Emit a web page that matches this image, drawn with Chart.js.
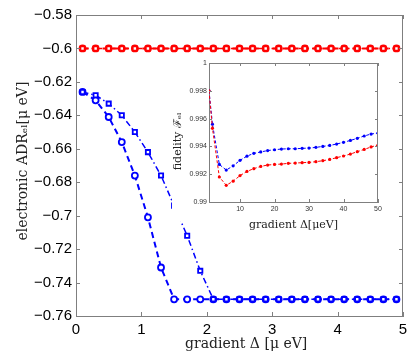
<!DOCTYPE html>
<html>
<head>
<meta charset="utf-8">
<script src="https://cdn.jsdelivr.net/npm/chart.js@4.4.1/dist/chart.umd.min.js"></script>
<style>
  html, body { margin: 0; padding: 0; background: #fff; }
  #wrap { position: relative; width: 415px; height: 357px; }
  #mainChart { position: absolute; left: 0; top: 0; }
  #insetChart { position: absolute; left: 172px; top: 55px; }
</style>
</head>
<body>
<div id="wrap">
  <canvas id="mainChart" width="415" height="357"></canvas>
  <canvas id="insetChart" width="222" height="177"></canvas>
</div>
<script>
// main plot data
const gradient = [0.1, 0.3, 0.5, 0.7, 0.9, 1.1, 1.3, 1.5, 1.7, 1.9, 2.1, 2.3, 2.5,
  2.7, 2.9, 3.1, 3.3, 3.5, 3.7, 3.9, 4.1, 4.3, 4.5, 4.7, 4.9];
const redCircles = [-0.6, -0.6, -0.6, -0.6, -0.6, -0.6, -0.6, -0.6, -0.6, -0.6, -0.6, -0.6, -0.6,
  -0.6, -0.6, -0.6, -0.6, -0.6, -0.6, -0.6, -0.6, -0.6, -0.6, -0.6, -0.6];
const redSquares = [-0.6, -0.6, -0.6, -0.6, -0.6, -0.6, -0.6, -0.6, -0.6, -0.6, -0.6, -0.6, -0.6,
  -0.6, -0.6, -0.6, -0.6, -0.6, -0.6, -0.6, -0.6, -0.6, -0.6, -0.6, -0.6];
const blueCircles = [-0.626, -0.631, -0.641, -0.656, -0.676, -0.701, -0.731, -0.75, -0.75, -0.75,
  -0.75, -0.75, -0.75, -0.75, -0.75, -0.75, -0.75, -0.75, -0.75, -0.75, -0.75, -0.75, -0.75, -0.75, -0.75];
const blueSquares = [-0.626, -0.628, -0.633, -0.640, -0.650, -0.662, -0.676, -0.694, -0.712, -0.733,
  -0.75, -0.75, -0.75, -0.75, -0.75, -0.75, -0.75, -0.75, -0.75, -0.75, -0.75, -0.75, -0.75, -0.75, -0.75];

// inset data
const insetGradient = [1, 2, 4, 6, 8, 10, 12, 14, 16, 18, 20, 22, 24, 26, 28, 30, 32, 34, 36,
  38, 40, 42, 44, 46, 48, 50];
const blueFidelity = [0.998, 0.9956, 0.9927, 0.9923, 0.9926, 0.9930, 0.9933, 0.9935, 0.9936,
  0.9937, 0.99376, 0.99381, 0.99383, 0.99383, 0.99386, 0.99388, 0.99393, 0.9940, 0.99407,
  0.99417, 0.99429, 0.99443, 0.99458, 0.99475, 0.99489, 0.99496];
const redFidelity = [0.998, 0.9953, 0.9918, 0.9912, 0.9915, 0.9919, 0.9922, 0.9924, 0.99256,
  0.99266, 0.9927, 0.99273, 0.99278, 0.9928, 0.99283, 0.99285, 0.9929, 0.99297, 0.99306,
  0.99319, 0.99331, 0.99345, 0.99362, 0.99378, 0.99396, 0.9941];

const toPoints = (xs, ys) => xs.map((x, i) => ({ x: x, y: ys[i] }));
const minus = (s) => s.replace("-", "\u2212");

const AXIS_COLOR = "#7f7f7f";

// box + inward tick marks, matlab style
function boxPlugin(tickLen) {
  return {
    id: "box",
    afterDraw(chart) {
      const { ctx, chartArea: a } = chart;
      const xs = chart.scales.x;
      const ys = chart.scales.y;
      ctx.save();
      ctx.strokeStyle = AXIS_COLOR;
      ctx.lineWidth = 1;
      ctx.beginPath();
      ctx.moveTo(a.left, a.top + 0.5);
      ctx.lineTo(a.right - 0.5, a.top + 0.5);
      ctx.lineTo(a.right - 0.5, a.bottom);
      xs.ticks.forEach((t) => {
        const px = Math.round(xs.getPixelForValue(t.value)) + 0.5;
        ctx.moveTo(px, a.bottom);
        ctx.lineTo(px, a.bottom - tickLen);
        ctx.moveTo(px, a.top);
        ctx.lineTo(px, a.top + tickLen);
      });
      ys.ticks.forEach((t) => {
        const py = Math.round(ys.getPixelForValue(t.value)) + 0.5;
        ctx.moveTo(a.left, py);
        ctx.lineTo(a.left + tickLen, py);
        ctx.moveTo(a.right, py);
        ctx.lineTo(a.right - tickLen, py);
      });
      ctx.stroke();
      ctx.restore();
    },
  };
}

const mainChart = new Chart(document.getElementById("mainChart"), {
  type: "line",
  data: {
    datasets: [
      {
        data: toPoints(gradient, redSquares),
        borderColor: "#ff0000",
        borderWidth: 1.5,
        borderDash: [6, 3, 1.5, 3],
        pointStyle: "rect",
        pointRadius: 3,
        pointBorderWidth: 1.8,
        pointBorderColor: "#ff0000",
        pointBackgroundColor: "#fff",
      },
      {
        data: toPoints(gradient, redCircles),
        borderColor: "#ff0000",
        borderWidth: 2,
        borderDash: [6, 4],
        pointStyle: "circle",
        pointRadius: 3,
        pointBorderWidth: 1.8,
        pointBorderColor: "#ff0000",
        pointBackgroundColor: "#fff",
      },
      {
        data: toPoints(gradient, blueSquares),
        borderColor: "#0000ff",
        borderWidth: 1.5,
        borderDash: [6, 3, 1.5, 3],
        pointStyle: "rect",
        pointRadius: 3,
        pointBorderWidth: 1.8,
        pointBorderColor: "#0000ff",
        pointBackgroundColor: "#fff",
      },
      {
        data: toPoints(gradient, blueCircles),
        borderColor: "#0000ff",
        borderWidth: 2,
        borderDash: [6, 4],
        pointStyle: "circle",
        pointRadius: 3,
        pointBorderWidth: 1.8,
        pointBorderColor: "#0000ff",
        pointBackgroundColor: "#fff",
      },
    ],
  },
  options: {
    responsive: false,
    animation: false,
    devicePixelRatio: 1,
    layout: { padding: { top: 15, right: 12, left: 0, bottom: 0 } },
    plugins: { legend: { display: false }, tooltip: { enabled: false } },
    scales: {
      x: {
        type: "linear",
        min: 0,
        max: 5,
        grid: { display: false, drawTicks: false },
        border: { color: AXIS_COLOR },
        ticks: {
          stepSize: 1,
          padding: 5,
          color: "#000",
          font: { family: "Liberation Sans", size: 15 },
          callback: (v) => minus(String(+v.toFixed(2))),
        },
        title: {
          display: true,
          text: "   gradient \u0394 [\u03bc eV]",
          color: "#222",
          padding: { top: 0, bottom: 4 },
          font: { family: "DejaVu Serif", size: 14 },
        },
        afterFit: (s) => { s.height = 41; },
      },
      y: {
        type: "linear",
        min: -0.76,
        max: -0.58,
        grid: { display: false, drawTicks: false },
        border: { color: AXIS_COLOR },
        ticks: {
          stepSize: 0.02,
          padding: 4,
          color: "#000",
          font: { family: "Liberation Sans", size: 15 },
          callback: (v) => minus(String(+v.toFixed(2))),
        },
        title: {
          display: true,
          text: "  electronic ADR\u2091\u2097[\u03bc eV]",
          color: "#222",
          padding: { top: 15, bottom: 0 },
          font: { family: "DejaVu Serif", size: 14 },
        },
        afterFit: (s) => { s.width = 76; },
      },
    },
  },
  plugins: [boxPlugin(4)],
});

// white backing behind the inset (hides main lines under it)
const insetBacking = {
  id: "insetBacking",
  beforeDraw(chart) {
    const ctx = chart.ctx;
    ctx.save();
    ctx.fillStyle = "#fff";
    ctx.fillRect(0, 0, chart.width, 166);
    ctx.restore();
  },
};

const insetChart = new Chart(document.getElementById("insetChart"), {
  type: "line",
  data: {
    datasets: [
      {
        data: toPoints(insetGradient, redFidelity),
        borderColor: "#ff0000",
        borderWidth: 1,
        borderDash: [3, 2],
        pointStyle: "circle",
        pointRadius: 1.6,
        pointBorderWidth: 0,
        pointBackgroundColor: "#ff0000",
      },
      {
        data: toPoints(insetGradient, blueFidelity),
        borderColor: "#0000ff",
        borderWidth: 1,
        borderDash: [3, 2],
        pointStyle: "circle",
        pointRadius: 1.6,
        pointBorderWidth: 0,
        pointBackgroundColor: "#0000ff",
      },
    ],
  },
  options: {
    responsive: false,
    animation: false,
    devicePixelRatio: 1,
    layout: { padding: { top: 8, right: 16, left: 0, bottom: 0 } },
    plugins: { legend: { display: false }, tooltip: { enabled: false } },
    scales: {
      x: {
        type: "linear",
        min: 1,
        max: 50,
        grid: { display: false, drawTicks: false },
        border: { color: AXIS_COLOR },
        afterBuildTicks: (s) => { s.ticks = s.ticks.filter((t) => t.value % 10 === 0); },
        ticks: {
          stepSize: 10,
          padding: 3,
          color: "#333",
          font: { family: "Liberation Sans", size: 7 },
        },
        title: {
          display: true,
          text: "gradient \u0394[\u03bceV]",
          color: "#222",
          padding: { top: 0, bottom: 0 },
          font: { family: "DejaVu Serif", size: 11 },
        },
        afterFit: (s) => { s.height = 30; },
      },
      y: {
        type: "linear",
        min: 0.99,
        max: 1,
        grid: { display: false, drawTicks: false },
        border: { color: AXIS_COLOR },
        ticks: {
          stepSize: 0.002,
          padding: 2,
          color: "#333",
          font: { family: "Liberation Sans", size: 7 },
          callback: (v) => String(+v.toFixed(3)),
        },
        title: {
          display: true,
          text: "fidelity \u2131\u2091\u2097     ",
          color: "#222",
          padding: { top: 0, bottom: 0 },
          font: { family: "DejaVu Serif", size: 11 },
        },
        afterFit: (s) => { s.width = 37; },
      },
    },
  },
  plugins: [insetBacking, boxPlugin(3)],
});
</script>
</body>
</html>
